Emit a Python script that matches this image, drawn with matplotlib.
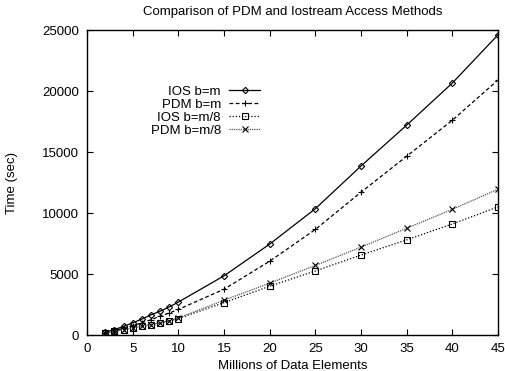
import matplotlib
matplotlib.use("Agg")
import matplotlib.pyplot as plt

x = [2, 3, 4, 5, 6, 7, 8, 9, 10, 15, 20, 25, 30, 35, 40, 45]
ios_bm = [230, 450, 700, 1000, 1300, 1650, 1950, 2300, 2700, 4850, 7450, 10350, 13850, 17200, 20650, 24600]
pdm_bm = [180, 350, 550, 750, 1000, 1250, 1550, 1800, 2100, 3750, 6050, 8650, 11700, 14650, 17600, 20900]
ios_bm8 = [150, 300, 430, 560, 700, 830, 980, 1150, 1350, 2650, 4000, 5250, 6550, 7800, 9100, 10500]
pdm_bm8 = [160, 310, 450, 580, 720, 860, 1010, 1180, 1400, 2850, 4250, 5700, 7200, 8750, 10300, 11950]

labels = ["IOS b=m", "PDM b=m", "IOS b=m/8", "PDM b=m/8"]
xticks = [0, 5, 10, 15, 20, 25, 30, 35, 40, 45]
yticks = [0, 5000, 10000, 15000, 20000, 25000]

plt.rcParams['font.family'] = ['Liberation Sans', 'DejaVu Sans']
fig = plt.figure(figsize=(5.06, 3.71), dpi=100)
ax = fig.add_axes([0.172, 0.097, 0.812, 0.822])

ax.plot(x, ios_bm, color='black', lw=0.9, ls='-', marker='D', ms=3.2, mfc='none', mew=0.8, label=labels[0])
ax.plot(x, pdm_bm, color='black', lw=0.9, ls=(0, (3, 2)), marker='+', ms=5, mew=0.8, label=labels[1])
ax.plot(x, ios_bm8, color='black', lw=0.9, ls=(0, (1, 1.5)), marker='s', ms=4, mfc='none', mew=0.8, label=labels[2])
ax.plot(x, pdm_bm8, color='#555555', lw=0.9, ls=(0, (1, 0.8)), marker='x', ms=4, mec='black', mew=0.8, label=labels[3])

ax.set_xlim(0, 45)
ax.set_ylim(0, 25000)
ax.set_xticks(xticks)
ax.set_yticks(yticks)
ax.tick_params(direction='in', top=True, right=True, length=4, width=0.8, labelsize=9.5, pad=6)
for s in ax.spines.values():
    s.set_linewidth(1.0)

ax.set_title("Comparison of PDM and Iostream Access Methods", fontsize=9.5, pad=11)
ax.set_xlabel("Millions of Data Elements", fontsize=9.5, labelpad=3)
ax.set_ylabel("Time (sec)", fontsize=9.5, labelpad=17)

leg = ax.legend(loc='upper right', bbox_to_anchor=(0.435, 0.835), frameon=False, markerfirst=False,
                fontsize=9.5, handlelength=2.4, labelspacing=0.05, handletextpad=0.6, borderaxespad=0)
for t in leg.get_texts():
    t.set_ha('right')

fig.savefig("out.png", dpi=100)
